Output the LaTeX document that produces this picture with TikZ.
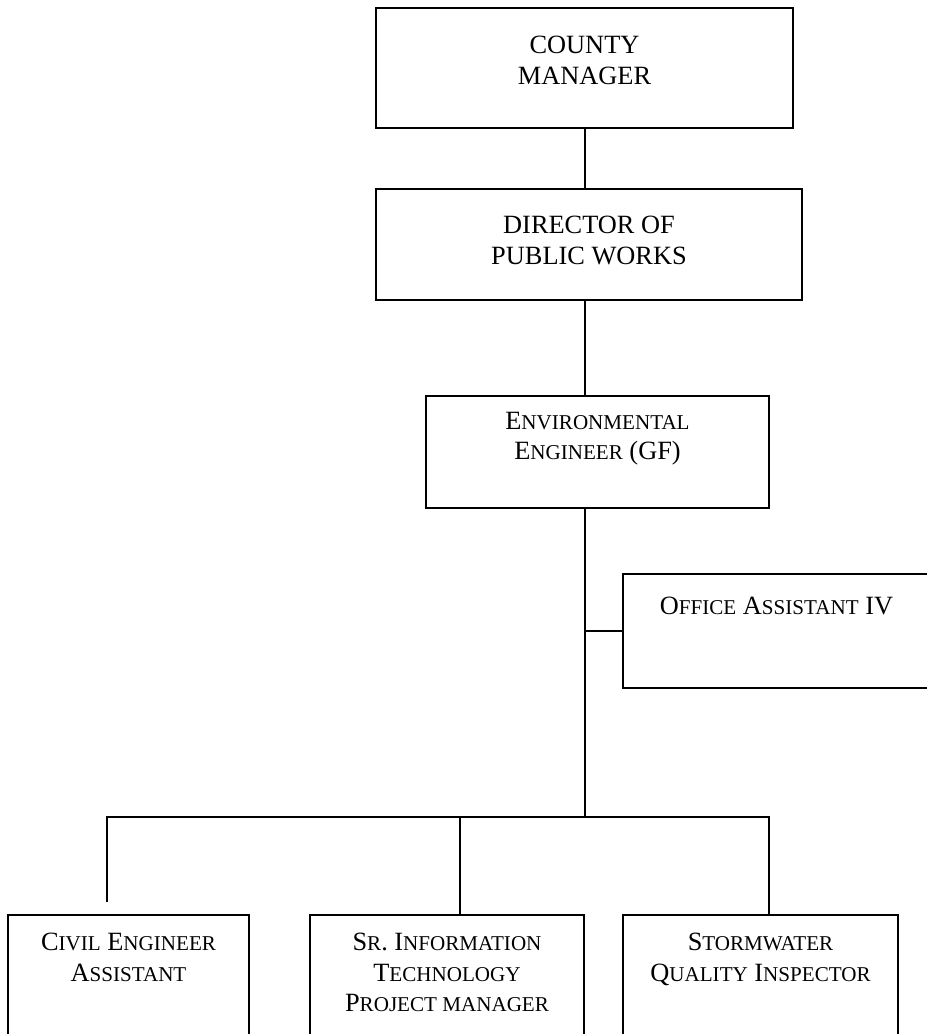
\documentclass[tikz,border=0pt]{standalone}
\usepackage{fontspec}
\setmainfont{Liberation Serif}
\usetikzlibrary{positioning}
\newcommand\lsc[1]{{\fontsize{12}{14}\selectfont #1}}
\tikzset{
  post/.style={draw, line width=1.1pt, inner sep=0pt},
  title/.style={anchor=north, align=center, inner sep=0pt, font=\fontsize{15}{17.5}\selectfont},
  link/.style={line width=1.1pt}
}

\begin{document}
\begin{tikzpicture}
	\useasboundingbox (0,0) rectangle (18.52,-20.68);
	% upper chain
	\node[post, minimum width=8.34cm, minimum height=2.40cm] (manager) at (11.69,-1.36) {};
	\node[title, below=0.58cm of manager.north] (managertext) {COUNTY\\MANAGER};
	\node[post, minimum width=8.52cm, minimum height=2.22cm] (director) at (11.78,-4.89) {};
	\node[title, below=0.56cm of director.north] (directortext) {DIRECTOR OF\\PUBLIC WORKS};
	\node[post, minimum width=6.86cm, minimum height=2.24cm] (engineer) at (11.95,-9.04) {};
	\node[title, below=0.33cm of engineer.north] (engineertext) {E\lsc{NVIRONMENTAL}\\E\lsc{NGINEER} (GF)};
	\node[post, minimum width=6.14cm, minimum height=2.28cm] (office) at (15.53,-12.62) {};
	\node[title, below=0.47cm of office.north] (officetext) {O\lsc{FFICE} A\lsc{SSISTANT} IV};
	% bottom row
	\node[post, minimum width=4.82cm, minimum height=2.6cm] (civil) at (2.57,-19.60) {};
	\node[title, below=0.37cm of civil.north] (civiltext) {C\lsc{IVIL} E\lsc{NGINEER}\\A\lsc{SSISTANT}};
	\node[post, minimum width=5.48cm, minimum height=2.6cm] (itpm) at (8.94,-19.60) {};
	\node[title, below=0.37cm of itpm.north] (itpmtext) {S\lsc{R}. I\lsc{NFORMATION}\\T\lsc{ECHNOLOGY}\\P\lsc{ROJECT MANAGER}};
	\node[post, minimum width=5.50cm, minimum height=2.6cm] (storm) at (15.21,-19.60) {};
	\node[title, below=0.37cm of storm.north] (stormtext) {S\lsc{TORMWATER}\\Q\lsc{UALITY} I\lsc{NSPECTOR}};
	% connectors
	\coordinate (spine) at (11.70,0);
	\coordinate (bus) at (11.70,-16.34);
	\coordinate (busleft) at (2.14,-16.34);
	\coordinate (busmid) at (9.20,-16.34);
	\coordinate (busright) at (15.38,-16.34);
	\coordinate (civilstub) at (2.14,-18.04);
	\draw[link] (manager.south -| spine) -- (director.north -| spine);
	\draw[link] (director.south -| spine) -- (engineer.north -| spine);
	\draw[link] (engineer.south -| spine) -- (bus);
	\draw[link] (office.west) -- (office.west -| spine);
	\draw[link] (civilstub) -- (busleft) -- (busright) -- (busright |- storm.north);
	\draw[link] (busmid) -- (busmid |- itpm.north);
\end{tikzpicture}
\end{document}
